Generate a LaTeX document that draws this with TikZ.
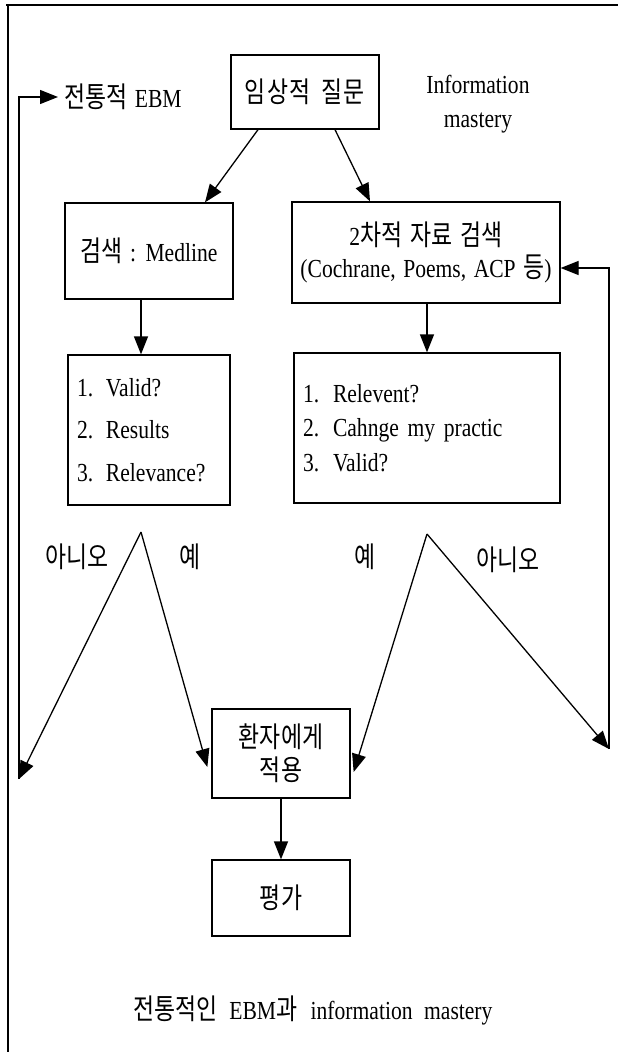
\documentclass[tikz,border=0pt]{standalone}
\usepackage{fontspec}
\setmainfont{Liberation Serif}[FakeStretch=0.83, WordSpace=1.4]
\newfontfamily\krf{Noto Sans CJK KR}[Scale=1.1, FakeStretch=0.8, WordSpace=1.6]
\usetikzlibrary{arrows.meta}
\newcommand{\K}[1]{{\krf #1}}
\begin{document}
\begin{tikzpicture}[x=1pt,y=-1pt,
  box/.style={draw, line width=1.3pt, inner sep=0pt, align=center},
  arr/.style={-{Triangle[length=18pt,width=14pt]}, line width=1.3pt},
  ln/.style={line width=1.3pt},
  every node/.style={font=\fontsize{26}{30}\selectfont}]
\useasboundingbox (0,0) rectangle (618,1052);
\fill[white] (0,0) rectangle (618,1052);
\draw[ln] (6,5) -- (618,5);
\draw[ln] (8,5) -- (8,1052);

\node[box, minimum width=148pt, minimum height=74pt] (q) at (305,92) {{\krf\addfontfeature{LetterSpace=5}임상적 질문}};
\node[anchor=west, inner sep=0pt] (ebm) at (64,97) {\K{전통적} EBM};
\node[align=center, font=\fontsize{26}{34}\selectfont] (im) at (478,104) {Information\\mastery};
\node[box, minimum width=168pt, minimum height=96pt] (med) at (149,251) {\K{검색} : Medline};
\node[box, minimum width=268pt, minimum height=101pt, font=\fontsize{26}{32}\selectfont] (sec) at (426,252.5) {2\K{차적 자료 검색}\\(Cochrane, Poems, ACP \K{등})};
\node[box, align=left, text width=144pt, inner xsep=9pt, minimum height=150pt, font=\fontsize{26}{42.5}\selectfont] (l1) at (149,430) {\makebox[29pt][l]{1.}Valid?\\\makebox[29pt][l]{2.}Results\\\makebox[29pt][l]{3.}Relevance?};
\node[box, align=left, text width=248pt, inner xsep=9pt, minimum height=150pt, font=\fontsize{26}{34.5}\selectfont] (r1) at (427,428) {\makebox[30pt][l]{1.}Relevent?\\\makebox[30pt][l]{2.}Cahnge my practic\\\makebox[30pt][l]{3.}Valid?};
\node[box, minimum width=138pt, minimum height=89pt, font=\fontsize{26}{33}\selectfont] (apply) at (281,753.5) {\K{환자에게}\\\K{적용}};
\node[box, minimum width=138pt, minimum height=76pt] (eval) at (281,898) {\K{평가}};
\node (cap) at (313,1010) {\K{전통적인}\hspace{4pt} EBM\K{과}\hspace{6pt} information\hspace{4pt} mastery};

\node (noL) at (77,557) {\K{아니오}};
\node (yesL) at (190,557) {\K{예}};
\node (yesR) at (365,557) {\K{예}};
\node (noR) at (508,560) {\K{아니오}};

\coordinate (aL) at (141,532);
\coordinate (aR) at (427,534);
\coordinate (flb) at (19,779);
\coordinate (frb) at (609,749);
\coordinate (frt) at (609,268);

\draw[arr] ([xshift=-47pt]q.south) -- ([xshift=56pt]med.north);
\draw[arr] ([xshift=30pt]q.south) -- ([xshift=-56pt]sec.north);
\draw[arr] (med.south -| aL) -- (l1.north -| aL);
\draw[arr] (sec.south -| aR) -- (r1.north -| aR);
\draw[arr] (apply.south) -- (eval.north);
\draw[arr] (aL) -- (flb);
\draw[arr] (aL) -- ([xshift=-4pt,yshift=-13.5pt]apply.west);
\draw[arr] (aR) -- ([xshift=3pt,yshift=-18.5pt]apply.east);
\draw[arr] (aR) -- (frb);
\draw[arr] (flb) |- ([xshift=-6pt]ebm.west);
\draw[arr] (frb) -- (frt) -- (frt -| sec.east);
\end{tikzpicture}
\end{document}
